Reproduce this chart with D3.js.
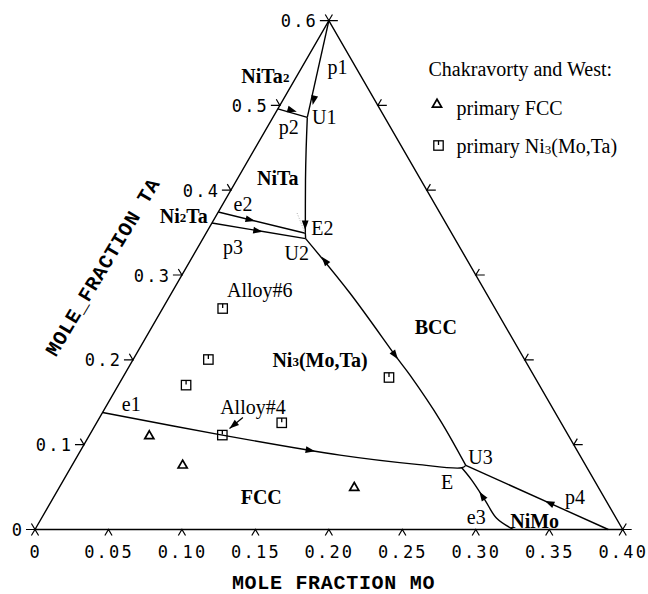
<!DOCTYPE html>
<html><head><meta charset="utf-8">
<script src="https://cdn.jsdelivr.net/npm/d3@7"></script>
<style>
html,body{margin:0;padding:0;background:#fff;}
svg{display:block;}
</style></head>
<body>
<svg id="chart" width="648" height="594"></svg>
<script>
// ---- axis ticks ----
const moTicks = [0, 0.05, 0.10, 0.15, 0.20, 0.25, 0.30, 0.35, 0.40];
const moTickLabels = ["0", "0.05", "0.10", "0.15", "0.20", "0.25", "0.30", "0.35", "0.40"];
const taTicks = [0, 0.1, 0.2, 0.3, 0.4, 0.5, 0.6];
const taTickLabels = ["0", "0.1", "0.2", "0.3", "0.4", "0.5", "0.6"];
const rightEdgeTicks = [0, 0.1, 0.2, 0.3, 0.4, 0.5, 0.6]; // Ta along the right edge

// ---- liquidus valleys, points are [Mo, Ta] ----
const valleyP1 = [[0, 0.6], [0.0234, 0.4858]];
const valleyP2 = [[0, 0.4958], [0.0234, 0.4858]];
const valleyU1E2 = [[0.0234, 0.4858], [0.0352, 0.4480], [0.0469, 0.4116], [0.0676, 0.3492]];
const valleyE2 = [[0, 0.3743], [0.0676, 0.3492], [0.0699, 0.3429]];
const valleyP3 = [[0, 0.3613], [0.0699, 0.3429]];
const valleyU2U3 = [[0.0699, 0.3429], [0.1216, 0.2785], [0.1801, 0.2008], [0.1946, 0.1819], [0.2327, 0.1290], [0.2680, 0.0756]];
const valleyE1 = [[0, 0.138], [0.0904, 0.1113], [0.1784, 0.0877], [0.2342, 0.0768], [0.2662, 0.0728], [0.2680, 0.0756]];
const valleyE3 = [[0.3256, 0], [0.3098, 0.0132], [0.2947, 0.0347], [0.2778, 0.0583], [0.2662, 0.0728]];
const valleyP4 = [[0.3902, 0], [0.2680, 0.0756]];
const faintGuide = [[0.0540, 0.3731], [0.0672, 0.3496]];

// ---- direction arrows: tip position and the direction they point ----
const arrowTips = [
  { at: [0.0222, 0.5004], from: [0, 0.6], to: [0.0234, 0.4858] },
  { at: [0.0140, 0.4925], from: [0, 0.4958], to: [0.0234, 0.4858] },
  { at: [0.0662, 0.3530], from: [0.0469, 0.4116], to: [0.0676, 0.3492] },
  { at: [0.0285, 0.3637], from: [0, 0.3743], to: [0.0676, 0.3492] },
  { at: [0.0380, 0.3510], from: [0, 0.3613], to: [0.0699, 0.3429] },
  { at: [0.0879, 0.3216], from: [0.1216, 0.2785], to: [0.0699, 0.3429] },
  { at: [0.1801, 0.2008], from: [0.1216, 0.2785], to: [0.1946, 0.1819] },
  { at: [0.1599, 0.0922], from: [0.0904, 0.1113], to: [0.1784, 0.0877] },
  { at: [0.2876, 0.0446], from: [0.2947, 0.0347], to: [0.2778, 0.0583] },
  { at: [0.3359, 0.0336], from: [0.3902, 0], to: [0.2680, 0.0756] },
  { at: [0.0927, 0.1191], from: [0.0975, 0.1320], to: [0.0927, 0.1191] }
];

// ---- Chakravorty and West alloys, [Mo, Ta] ----
const fccAlloys = [[0.0407, 0.1113], [0.0749, 0.0768], [0.2005, 0.0504]];
const ni3Alloys = [[0.0409, 0.2605], [0.0512, 0.2004], [0.0461, 0.1702], [0.0904, 0.1113], [0.1260, 0.1258], [0.1812, 0.1792]];

// ---- annotations: text, [Mo, Ta] centre; "_n" marks a small subscript digit ----
const pointLabels = [
  ["p1", 0.0242, 0.5452], ["p2", 0.0144, 0.4748], ["U1", 0.0349, 0.4859],
  ["E2", 0.0773, 0.3550], ["U2", 0.0696, 0.3256], ["e2", 0.0137, 0.3837],
  ["p3", 0.0236, 0.3334], ["Alloy#6", 0.0589, 0.2823], ["e1", 0.0162, 0.1479],
  ["Alloy#4", 0.1001, 0.1447], ["U3", 0.2748, 0.0851], ["E", 0.2618, 0.0563],
  ["e3", 0.2955, 0.0144], ["p4", 0.3549, 0.0380]
];
const phaseLabels = [
  ["NiTa_2", -0.0214, 0.5346], ["NiTa", 0.0272, 0.4140], ["Ni_2Ta", -0.0219, 0.3695],
  ["Ni_3(Mo,Ta)", 0.1274, 0.1998], ["BCC", 0.1931, 0.2391], ["FCC", 0.1411, 0.0387],
  ["NiMo", 0.3366, 0.0104]
];

// ---- geometry: bottom edge Mo 0..0.4, apex Ta 0.6 ----
const W = 587.7, X0 = 35, Y0 = 529.5, H = W * Math.sqrt(3) / 2;
const xMo = d3.scaleLinear().domain([0, 0.4]).range([0, W]);
const fTa = d3.scaleLinear().domain([0, 0.6]).range([0, 1]);
function pos(mo, ta) { const f = fTa(ta); return [X0 + xMo(mo) + f * W / 2, Y0 - f * H]; }

const svg = d3.select("#chart");
const ink = "#000";
const serif = "'Liberation Serif', 'Times New Roman', serif";
const mono = "'DejaVu Sans Mono', monospace";
const courier = "'Liberation Mono', 'Courier New', monospace";

const line = d3.line().x(d => pos(d[0], d[1])[0]).y(d => pos(d[0], d[1])[1]);
const curvy = d3.line().x(d => pos(d[0], d[1])[0]).y(d => pos(d[0], d[1])[1]).curve(d3.curveCatmullRom.alpha(0.5));

// triangle outline
svg.append("path")
  .attr("d", line([[0, 0], [0.4, 0], [0, 0.6], [0, 0]]))
  .attr("fill", "none").attr("stroke", ink).attr("stroke-width", 1.4).attr("stroke-linejoin", "miter");

// tick marks: extensions of the grid directions beyond each edge
const up = Math.sqrt(3) / 2;
const ticks = svg.append("g").attr("stroke", ink).attr("stroke-width", 1.2).attr("fill", "none");
moTicks.forEach(m => {
  const [x, y] = pos(m, 0);
  ticks.append("path").attr("d", `M${x - 3.6},${y + 7 * up}L${x},${y}L${x + 3.6},${y + 7 * up}`);
});
taTicks.forEach(t => {
  const [x, y] = pos(0, t);
  ticks.append("path").attr("d", `M${x - 9},${y}L${x},${y}L${x - 3.6},${y - 7 * up}`);
});
rightEdgeTicks.forEach(t => {
  const [x, y] = pos(0.4 * (1 - t / 0.6), t);
  ticks.append("path").attr("d", `M${x + 9},${y}L${x},${y}L${x + 3.6},${y - 7 * up}`);
});

// tick labels
svg.append("g").selectAll("text").data(moTicks).join("text")
  .attr("x", d => pos(d, 0)[0] - 0.5 + 1.1).attr("y", d => pos(d, 0)[1] + 22)
  .attr("text-anchor", "middle").attr("dominant-baseline", "central")
  .attr("font-family", mono).attr("font-size", 17).attr("letter-spacing", 2.2)
  .text((d, i) => moTickLabels[i]);
svg.append("g").selectAll("text").data(taTicks).join("text")
  .attr("x", d => pos(0, d)[0] - 13 + 2.2).attr("y", d => pos(0, d)[1] + 0.5)
  .attr("text-anchor", "end").attr("dominant-baseline", "central")
  .attr("font-family", mono).attr("font-size", 17).attr("letter-spacing", 2.2)
  .text((d, i) => taTickLabels[i]);

// axis titles
svg.append("text").attr("x", 333.5).attr("y", 589)
  .attr("text-anchor", "middle")
  .attr("font-family", courier).attr("font-weight", "bold").attr("font-size", 20).attr("letter-spacing", 0.7)
  .text("MOLE FRACTION MO");
svg.append("text").attr("transform", "translate(103.5,267.5) rotate(-59)")
  .attr("text-anchor", "middle").attr("dominant-baseline", "central")
  .attr("font-family", courier).attr("font-weight", "bold").attr("font-size", 20).attr("letter-spacing", 0.7)
  .text("MOLE_FRACTION TA");

// valleys
const valleys = svg.append("g").attr("fill", "none").attr("stroke", ink).attr("stroke-width", 1.4)
  .attr("stroke-linejoin", "round");
[valleyP1, valleyP2, valleyE2, valleyP3, valleyP4].forEach(v => valleys.append("path").attr("d", line(v)));
[valleyU1E2, valleyU2U3, valleyE3].forEach(v => valleys.append("path").attr("d", curvy(v)));
svg.append("path").attr("d", line(faintGuide)).attr("fill", "none")
  .attr("stroke", "#9a9a9a").attr("stroke-width", 0.8).attr("stroke-dasharray", "1,1.6");

// Alloy#4 pointer shaft
svg.append("path").attr("d", line([[0.0975, 0.1320], [0.0927, 0.1191]]))
  .attr("stroke", ink).attr("stroke-width", 1.2);

// arrowheads
svg.append("g").selectAll("path").data(arrowTips).join("path")
  .attr("d", d => {
    const [tx, ty] = pos(d.at[0], d.at[1]);
    const a = pos(d.from[0], d.from[1]), b = pos(d.to[0], d.to[1]);
    const len = Math.hypot(b[0] - a[0], b[1] - a[1]);
    const ux = (b[0] - a[0]) / len, uy = (b[1] - a[1]) / len;
    const L = 9.5, hw = 3.4;
    const bx = tx - ux * L, by = ty - uy * L;
    return `M${tx},${ty}L${bx - uy * hw},${by + ux * hw}L${bx + uy * hw},${by - ux * hw}Z`;
  })
  .attr("fill", ink);

// alloy symbols
const tri = d3.symbol(d3.symbolTriangle, 36);
function drawTriangle(g, x, y) {
  g.append("path").attr("d", tri()).attr("transform", `translate(${x},${y + 1})`)
    .attr("fill", "none").attr("stroke", ink).attr("stroke-width", 1.7).attr("stroke-linejoin", "miter");
}
function drawSquare(g, x, y) {
  g.append("rect").attr("x", x - 4.7).attr("y", y - 4.7).attr("width", 9.4).attr("height", 9.4)
    .attr("fill", "#fff").attr("stroke", ink).attr("stroke-width", 1.3);
  g.append("line").attr("x1", x).attr("x2", x).attr("y1", y - 4.7).attr("y2", y - 0.5)
    .attr("stroke", ink).attr("stroke-width", 1.3);
}
const sym = svg.append("g");
fccAlloys.forEach(d => { const [x, y] = pos(d[0], d[1]); drawTriangle(sym, x, y); });
ni3Alloys.forEach(d => { const [x, y] = pos(d[0], d[1]); drawSquare(sym, x, y); });
// the e1 valley runs across the Alloy#4 marker, so it is drawn after the symbols
svg.append("path").attr("d", curvy(valleyE1)).attr("fill", "none").attr("stroke", ink)
  .attr("stroke-width", 1.4).attr("stroke-linejoin", "round");

// text with small subscript digits
function richText(sel, s, subSize) {
  const parts = s.split(/(_\d)/).filter(p => p.length);
  let prevSub = false;
  parts.forEach(p => {
    if (p[0] === "_") {
      sel.append("tspan").attr("font-size", subSize).attr("dy", 1).text(p.slice(1));
      prevSub = true;
    } else {
      const t = sel.append("tspan").text(p);
      if (prevSub) t.attr("dy", -1);
      prevSub = false;
    }
  });
}

svg.append("g").selectAll("text").data(pointLabels).join("text")
  .attr("x", d => pos(d[1], d[2])[0]).attr("y", d => pos(d[1], d[2])[1])
  .attr("text-anchor", "middle").attr("dominant-baseline", "central")
  .attr("font-family", serif).attr("font-size", 20)
  .text(d => d[0]);

phaseLabels.forEach(d => {
  const [x, y] = pos(d[1], d[2]);
  const t = svg.append("text").attr("x", x).attr("y", y)
    .attr("text-anchor", "middle").attr("dominant-baseline", "central")
    .attr("font-family", serif).attr("font-weight", "bold").attr("font-size", 20);
  richText(t, d[0], 13);
});

// legend
const leg = svg.append("g");
leg.append("text").attr("x", 428.5).attr("y", 76).attr("font-family", serif).attr("font-size", 20)
  .text("Chakravorty and West:");
drawTriangle(leg, 437, 103.5);
leg.append("text").attr("x", 456.5).attr("y", 115).attr("font-family", serif).attr("font-size", 20)
  .text("primary FCC");
drawSquare(leg, 438.5, 145.5);
const lt = leg.append("text").attr("x", 456.5).attr("y", 153).attr("font-family", serif).attr("font-size", 20);
richText(lt, "primary Ni_3(Mo,Ta)", 13);
</script>
</body></html>
